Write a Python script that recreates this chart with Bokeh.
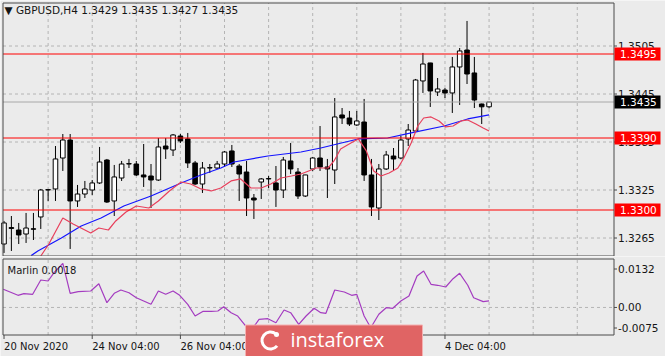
from bokeh.plotting import figure
from bokeh.models import Range1d, ColumnDataSource
from bokeh.layouts import column
from bokeh.embed import file_html
from bokeh.resources import INLINE
from bokeh.core.properties import value

# ---------------- data ----------------
bars = list(range(1, 68))
opens = [1.32575, 1.32780, 1.32750, 1.32700, 1.32765, 1.32913, 1.33250, 1.33263, 1.33650, 1.33875,
         1.33113, 1.33200, 1.33250, 1.33338, 1.33625, 1.33113, 1.33400, 1.33575, 1.33575, 1.33438,
         1.33425, 1.33375, 1.33800, 1.33750, 1.33925, 1.33888, 1.33588, 1.33325, 1.33525, 1.33525,
         1.33575, 1.33738, 1.33550, 1.33475, 1.33150, 1.33350, 1.33388, 1.33338, 1.33250, 1.33613,
         1.33475, 1.33175, 1.33513, 1.33650, 1.33538, 1.33500, 1.34188, 1.34150, 1.34063, 1.34100,
         1.33438, 1.33025, 1.33513, 1.33675, 1.33650, 1.33888, 1.33988, 1.34613, 1.34838, 1.34475,
         1.34500, 1.34463, 1.34788, 1.35000, 1.34713, 1.34325, 1.34290]
highs = [1.32863, 1.32925, 1.32838, 1.32963, 1.32963, 1.33263, 1.33263, 1.33800, 1.33950, 1.33950,
         1.33313, 1.33363, 1.33375, 1.33788, 1.33638, 1.33563, 1.33613, 1.33638, 1.33613, 1.33825,
         1.33575, 1.33900, 1.33900, 1.33950, 1.33950, 1.33963, 1.33613, 1.33600, 1.33575, 1.33613,
         1.33738, 1.33813, 1.33575, 1.33613, 1.33200, 1.33400, 1.33425, 1.33550, 1.33663, 1.33838,
         1.33525, 1.33440, 1.33663, 1.34050, 1.33638, 1.34400, 1.34275, 1.34238, 1.34238, 1.34388,
         1.33638, 1.33575, 1.33738, 1.33775, 1.33925, 1.34075, 1.34638, 1.34963, 1.34840, 1.34650,
         1.34525, 1.34913, 1.35025, 1.35363, 1.34913, 1.34330, 1.34350]
lows = [1.32463, 1.32488, 1.32575, 1.32588, 1.32625, 1.32763, 1.33113, 1.33113, 1.33488, 1.32513,
        1.33038, 1.33150, 1.33188, 1.33325, 1.33088, 1.32925, 1.33363, 1.33525, 1.33425, 1.33288,
        1.33025, 1.33363, 1.33638, 1.33675, 1.33838, 1.33525, 1.33313, 1.33213, 1.33463, 1.33513,
        1.33538, 1.33538, 1.33113, 1.32925, 1.32888, 1.33138, 1.33275, 1.33038, 1.33150, 1.33450,
        1.33138, 1.33163, 1.33488, 1.33488, 1.33150, 1.33325, 1.34075, 1.34050, 1.34050, 1.33363,
        1.32925, 1.32875, 1.33500, 1.33488, 1.33638, 1.33800, 1.33963, 1.34463, 1.34288, 1.34425,
        1.34400, 1.34213, 1.34313, 1.34575, 1.34275, 1.34075, 1.34270]
closes = [1.32838, 1.32770, 1.32688, 1.32775, 1.32760, 1.33250, 1.33255, 1.33638, 1.33875, 1.33113,
          1.33200, 1.33263, 1.33338, 1.33600, 1.33100, 1.33413, 1.33575, 1.33580, 1.33438, 1.33413,
          1.33375, 1.33788, 1.33763, 1.33938, 1.33863, 1.33588, 1.33325, 1.33525, 1.33530, 1.33575,
          1.33725, 1.33575, 1.33450, 1.33150, 1.33125, 1.33388, 1.33393, 1.33250, 1.33625, 1.33513,
          1.33175, 1.33438, 1.33650, 1.33538, 1.33513, 1.34163, 1.34150, 1.34075, 1.34113, 1.33438,
          1.33038, 1.33513, 1.33688, 1.33638, 1.33875, 1.34000, 1.34625, 1.34825, 1.34488, 1.34513,
          1.34463, 1.34788, 1.34988, 1.34700, 1.34375, 1.34290, 1.34350]

# slow moving average (blue)
ma_slow_x = [4.7, 5.6, 8.8, 11.5, 14.2, 17.3, 21.0, 25.1, 27.8, 30.5, 32.3, 36.9, 41.4, 44.1,
             46.9, 49.2, 53.2, 56.4, 60.9, 64.1, 67.0]
ma_slow_y = [1.32430, 1.32488, 1.32650, 1.32800, 1.32900, 1.33050, 1.33175, 1.33338, 1.33438,
             1.33525, 1.33600, 1.33675, 1.33725, 1.33775, 1.33838, 1.33888, 1.33900, 1.33963,
             1.34050, 1.34138, 1.34188]
# fast moving average (red)
ma_fast_x = [6.0, 7.1, 9.0, 10.4, 12.8, 13.9, 15.2, 16.2, 17.6, 19.0, 20.7, 22.0, 23.5, 25.1,
             26.4, 27.8, 29.2, 30.5, 31.9, 33.2, 34.6, 36.0, 37.3, 38.7, 40.1, 41.4, 43.5, 45.1,
             45.9, 46.8, 48.2, 49.2, 50.3, 51.3, 52.3, 53.4, 54.6, 55.4, 56.4, 57.3, 58.1, 59.1,
             60.2, 61.1, 62.1, 63.2, 64.1, 65.2, 66.2, 67.0]
ma_fast_y = [1.32425, 1.32575, 1.32900, 1.32825, 1.32713, 1.32775, 1.32750, 1.32863, 1.32975,
             1.33050, 1.33025, 1.33113, 1.33238, 1.33350, 1.33325, 1.33263, 1.33238, 1.33275,
             1.33363, 1.33388, 1.33275, 1.33275, 1.33325, 1.33400, 1.33425, 1.33450, 1.33525,
             1.33525, 1.33613, 1.33763, 1.33838, 1.33888, 1.33738, 1.33488, 1.33425, 1.33463,
             1.33525, 1.33650, 1.33838, 1.34050, 1.34150, 1.34163, 1.34113, 1.34038, 1.34050,
             1.34113, 1.34125, 1.34075, 1.34025, 1.33988]

# Marlin oscillator
marlin_x = [0.9, 2.9, 3.7, 4.9, 6.0, 7.0, 7.8, 9.0, 10.0, 11.1, 12.8, 13.9, 15.0, 16.0, 16.9,
            18.0, 19.0, 20.0, 21.0, 22.0, 23.0, 24.0, 24.9, 26.0, 27.0, 28.1, 29.2, 30.1, 30.9,
            31.9, 32.8, 33.9, 34.9, 35.7, 36.9, 38.0, 39.1, 40.0, 41.1, 42.1, 43.2, 44.1, 44.8,
            46.0, 47.3, 48.3, 49.0, 50.0, 50.9, 52.0, 53.0, 53.9, 55.0, 56.1, 57.2, 58.1, 59.1,
            60.0, 61.1, 62.1, 63.0, 64.1, 64.9, 66.2, 67.0]
marlin_v = [0.00495, 0.00331, 0.00375, 0.00358, 0.00748, 0.00721, 0.00947, 0.01203, 0.00386,
            0.00429, 0.00448, 0.00647, 0.00130, 0.00386, 0.00476, 0.00402, 0.00266, 0.00176,
            0.00086, 0.00448, 0.00358, 0.00448, 0.00331, 0.00086, -0.00233, -0.00105, -0.00105,
            -0.00096, 0.00021, -0.00143, -0.00233, -0.00505, -0.00550, -0.00323, -0.00306,
            -0.00415, -0.00069, -0.00143, -0.00459, -0.00233, -0.00023, -0.00143, -0.00159,
            0.00476, 0.00421, 0.00331, 0.00358, -0.00233, -0.00551, -0.00186, -0.00007,
            -0.00023, 0.00176, 0.00312, 0.00857, 0.00993, 0.00631, 0.00604, 0.00557, 0.00783,
            0.00930, 0.00604, 0.00266, 0.00160, 0.00180]

levels = [1.3495, 1.3390, 1.3300]
current_price = 1.3435
price_ticks = [1.3265, 1.3325, 1.3385, 1.3445, 1.3505]
osc_ticks = [0.0132, 0.00, -0.0075]
osc_tick_labels = ["0.0132", "0.00", "-0.0075"]
label_bars = [1, 13, 25, 37, 49, 61]
label_texts = ["20 Nov 2020", "24 Nov 04:00", "26 Nov 04:00", "30 Nov 04:00", "2 Dec 04:00", "4 Dec 04:00"]
grid_bars = list(range(7, 84, 6))
title_text = "\u25bc GBPUSD,H4  1.3429 1.3435 1.3427 1.3435"
osc_title = "Marlin 0.0018"

# ---------------- geometry / style ----------------
BG = "#ebebeb"
EDGE = "#4a4a4a"
GRID = "#b4b4b4"
TXT = "#151515"
LEVEL_RED = "#ff0000"
FONT = "DejaVu Sans"
W, H1, H2 = 665, 256, 100
CX0, CX1 = 2.5, 613.5        # chart area left / right (px, pixel centres)
X0, X1 = 0.86, 84.0          # visible bar span
kx = (CX1 - CX0) / (X1 - X0)
x_start, x_end = X0 - CX0 / kx, X1 + (W - CX1) / kx


def bx(px):
    return x_start + px / kx


P_TOP, P_BOT = 1.355875, 1.32425
MT, MB = 2.5, 255.5
km = (MB - MT) / (P_TOP - P_BOT)
my_end = P_TOP + MT / km


def my(py):
    return my_end - py / km


O_TOP, O_BOT = 0.0132, -0.0075
LT, LB = 2.5, 78.5
ko = (LB - LT) / (O_TOP - O_BOT)
oy_end = O_TOP + LT / ko


def oy(py):
    return oy_end - py / ko


def txt(fig, xs, ys, texts, size="10.5px", color=TXT, align="left", font=FONT):
    fig.text(x=xs, y=ys, text=texts, text_font=value(font), text_font_size=value(size),
             text_color=color, text_align=align, text_baseline="middle")


def base_fig(h, y0, y1):
    f = figure(width=W, height=h, x_range=Range1d(x_start, x_end), y_range=Range1d(y0, y1),
               output_backend="svg", toolbar_location=None, x_axis_location=None,
               y_axis_location=None, min_border=0, background_fill_color=BG,
               border_fill_color=BG, outline_line_color=None)
    f.grid.grid_line_color = None
    return f


# ---------------- main price panel ----------------
p = base_fig(H1, my(H1), my_end)

p.segment(x0=grid_bars, x1=grid_bars, y0=P_BOT, y1=P_TOP, line_color=GRID, line_dash="3 3", line_width=1)
p.segment(x0=X0, x1=X1, y0=price_ticks, y1=price_ticks, line_color=GRID, line_dash="3 3", line_width=1)

src = ColumnDataSource(dict(x=bars, o=opens, h=highs, l=lows, c=closes,
                            top=[max(a, b) for a, b in zip(opens, closes)],
                            bot=[min(a, b) for a, b in zip(opens, closes)],
                            fill=["white" if c >= o else "black" for o, c in zip(opens, closes)]))
p.segment(x0="x", y0="l", x1="x", y1="h", source=src, line_color="black", line_width=1)
p.vbar(x="x", top="top", bottom="bot", width=0.62, source=src, fill_color="fill",
       line_color="black", line_width=1)

p.line(ma_slow_x, ma_slow_y, line_color="#1414ff", line_width=1.2)
p.line(ma_fast_x, ma_fast_y, line_color="#e8405c", line_width=1.2)

p.line([X0, X1], [current_price, current_price], line_color="#a8a8a8", line_width=1)
for lv in levels:
    p.line([X0, X1], [lv, lv], line_color=LEVEL_RED, line_width=1)

p.line([X0, X1, X1, X0, X0], [P_TOP, P_TOP, P_BOT, P_BOT, P_TOP], line_color=EDGE, line_width=1)

p.segment(x0=X1, x1=bx(CX1 + 3), y0=price_ticks, y1=price_ticks, line_color=EDGE, line_width=1)
txt(p, bx(CX1 + 4), price_ticks, [f"{t:.4f}" for t in price_ticks])

p.rect(x=bx(637), y=levels, width=46, height=13, width_units="screen", height_units="screen",
       fill_color=LEVEL_RED, line_color=None)
txt(p, bx(CX1 + 6), levels, [f"{v:.4f}" for v in levels], color="white")
p.rect(x=bx(637), y=current_price, width=46, height=13, width_units="screen",
       height_units="screen", fill_color="#000000", line_color=None)
txt(p, bx(CX1 + 6), [current_price], [f"{current_price:.4f}"], color="white")

txt(p, [bx(4)], [my(9)], [title_text])

# ---------------- oscillator panel ----------------
q = base_fig(H2, oy(H2), oy_end)
q.segment(x0=grid_bars, x1=grid_bars, y0=O_BOT, y1=O_TOP, line_color=GRID, line_dash="3 3", line_width=1)
q.segment(x0=X0, x1=X1, y0=0.0, y1=0.0, line_color=GRID, line_dash="3 3", line_width=1)

q.line(marlin_x, marlin_v, line_color="#a43cc0", line_width=1.2)

q.line([X0, X1, X1, X0, X0], [O_TOP, O_TOP, O_BOT, O_BOT, O_TOP], line_color=EDGE, line_width=1)

osc_pos = [oy(LT + 10), osc_ticks[1], oy(LB - 7)]
q.segment(x0=X1, x1=bx(CX1 + 3), y0=osc_pos, y1=osc_pos, line_color=EDGE, line_width=1)
txt(q, bx(CX1 + 4), osc_pos, osc_tick_labels)

q.segment(x0=label_bars, x1=label_bars, y0=O_BOT, y1=oy(LB + 4), line_color=EDGE, line_width=1)
txt(q, label_bars, oy(LB + 11), label_texts, size="10px")

txt(q, [bx(7)], [oy(LT + 11)], [osc_title], size="10px")

# watermark logo
q.rect(x=bx(333.5), y=oy(84.5), width=177, height=32, width_units="screen", height_units="screen",
       fill_color="#e06464", line_color="#f4b0b0", line_width=1)
q.arc(x=bx(270), y=oy(84), radius=8.5, radius_units="screen", start_angle=0.9, end_angle=5.6,
      line_color="white", line_width=3)
q.scatter(x=[bx(276)], y=[oy(78)], size=5, marker="circle", fill_color="white", line_color=None)
txt(q, [bx(290)], [oy(83)], ["instaforex"], size="20px", color="white", font="Open Sans")

layout = column(p, q, spacing=0)
open("out.html", "w").write(file_html(layout, INLINE))
